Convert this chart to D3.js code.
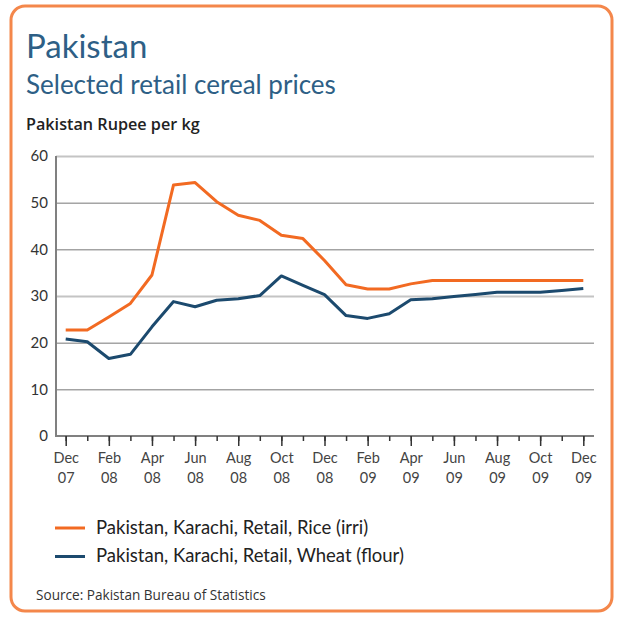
<!DOCTYPE html>
<html>
<head>
<meta charset="utf-8">
<script src="https://cdn.jsdelivr.net/npm/d3@7/dist/d3.min.js"></script>
<style>
  html, body { margin: 0; padding: 0; background: #fff; }
  svg { display: block; }
  text { font-family: Lato, "Open Sans", sans-serif; }
</style>
</head>
<body>
<svg id="chart" width="622" height="618"></svg>
<script>
// Month labels, Dec 2007 to Dec 2009
const months = ["Dec 07","Jan 08","Feb 08","Mar 08","Apr 08","May 08","Jun 08","Jul 08","Aug 08","Sep 08","Oct 08","Nov 08",
                "Dec 08","Jan 09","Feb 09","Mar 09","Apr 09","May 09","Jun 09","Jul 09","Aug 09","Sep 09","Oct 09","Nov 09","Dec 09"];
// Retail prices, Pakistan Rupee per kg
const rice  = [22.7,22.7,25.5,28.4,34.5,53.8,54.3,50.2,47.3,46.2,43.0,42.3,
               37.6,32.4,31.5,31.5,32.6,33.3,33.3,33.3,33.3,33.3,33.3,33.3,33.3];
const wheat = [20.8,20.2,16.6,17.5,23.4,28.8,27.7,29.1,29.4,30.1,34.3,32.3,
               30.3,25.8,25.2,26.2,29.2,29.4,29.9,30.3,30.8,30.8,30.8,31.2,31.6];
const yTicks = [0,10,20,30,40,50,60];
const seriesNames = ["Pakistan, Karachi, Retail, Rice (irri)", "Pakistan, Karachi, Retail, Wheat (flour)"];
const seriesColors = ["#f26a22", "#1c4a6e"];

const svg = d3.select("#chart");

// Frame
svg.append("rect")
  .attr("x", 11).attr("y", 6).attr("width", 601).attr("height", 605)
  .attr("rx", 14).attr("ry", 14)
  .attr("fill", "#fff").attr("stroke", "#f4874b").attr("stroke-width", 3);

// Titles
svg.append("text").attr("x", 26).attr("y", 58)
  .attr("font-size", 33).attr("fill", "#2e5f86").text("Pakistan");
svg.append("text").attr("x", 26).attr("y", 94)
  .attr("font-size", 26).attr("fill", "#2e5f86").text("Selected retail cereal prices");
svg.append("text").attr("x", 26).attr("y", 130)
  .attr("font-size", 16.2).attr("font-weight", 600).attr("fill", "#222")
  .style("font-family", "'Open Sans', sans-serif").text("Pakistan Rupee per kg");

const plot = { left: 56, right: 594, top: 156, bottom: 436 };
const x = d3.scalePoint().domain(months).range([65.7, 583.3]);
const y = d3.scaleLinear().domain([0, 60]).range([plot.bottom, plot.top]);

// Horizontal gridlines
const grid = svg.append("g").attr("transform", `translate(${plot.left},0)`)
  .call(d3.axisRight(y).tickValues(yTicks.filter(v => v > 0)).tickSize(plot.right - plot.left).tickFormat(""));
grid.select(".domain").remove();
grid.selectAll(".tick line")
  .attr("stroke", d => (d === 60 || d === 30) ? "#c4c4c4" : "#777")
  .attr("stroke-width", d => (d === 60 || d === 30) ? 2.2 : 1);

// Y axis labels
const yAxis = svg.append("g").attr("transform", `translate(${plot.left},0)`)
  .call(d3.axisLeft(y).tickValues(yTicks).tickSize(0).tickPadding(8).tickFormat(d3.format("d")));
yAxis.select(".domain").remove();
yAxis.selectAll("text").attr("font-size", 15).attr("fill", "#333")
  .style("font-family", "Lato, sans-serif");

// Axis lines
svg.append("line").attr("x1", plot.left).attr("x2", plot.left).attr("y1", plot.top).attr("y2", plot.bottom + 1)
  .attr("stroke", "#808080").attr("stroke-width", 2);
svg.append("line").attr("x1", plot.left - 1).attr("x2", plot.right).attr("y1", plot.bottom).attr("y2", plot.bottom)
  .attr("stroke", "#808080").attr("stroke-width", 2);

// Minor ticks every month
const minor = svg.append("g").attr("transform", `translate(0,${plot.bottom})`)
  .call(d3.axisBottom(x).tickSize(5).tickFormat(""));
minor.select(".domain").remove();
minor.selectAll(".tick line").attr("stroke", "#333").attr("stroke-width", 1.5);

// Major ticks every second month with two-line labels
const major = svg.append("g").attr("transform", `translate(0,${plot.bottom})`)
  .call(d3.axisBottom(x).tickValues(months.filter((m, i) => i % 2 === 0)).tickSize(10).tickFormat(""));
major.select(".domain").remove();
major.selectAll(".tick line").attr("stroke", "#333").attr("stroke-width", 1.5);
major.selectAll(".tick").each(function(d) {
  const parts = d.split(" ");
  const t = d3.select(this).append("text")
    .attr("fill", "#444").attr("font-size", 14.5).attr("text-anchor", "middle")
    .style("font-family", "Lato, sans-serif");
  t.append("tspan").attr("x", 0).attr("y", 27).text(parts[0]);
  t.append("tspan").attr("x", 0).attr("y", 47).text(parts[1]);
});

// Lines
const line = d3.line().x((d, i) => x(months[i])).y(d => y(d));
[rice, wheat].forEach((s, k) => {
  svg.append("path").datum(s)
    .attr("fill", "none").attr("stroke", seriesColors[k]).attr("stroke-width", 3)
    .attr("stroke-linejoin", "round").attr("d", line);
});

// Legend
seriesNames.forEach((name, k) => {
  const ly = 528 + k * 28.5;
  svg.append("line").attr("x1", 55).attr("x2", 85).attr("y1", ly).attr("y2", ly)
    .attr("stroke", seriesColors[k]).attr("stroke-width", 3);
  svg.append("text").attr("x", 96).attr("y", ly + 5.5)
    .attr("font-size", 18.5).attr("fill", "#222").text(name);
});

// Source note
svg.append("text").attr("x", 36).attr("y", 600)
  .attr("font-size", 13.6).attr("fill", "#333")
  .style("font-family", "'Open Sans', sans-serif").text("Source: Pakistan Bureau of Statistics");
</script>
</body>
</html>
